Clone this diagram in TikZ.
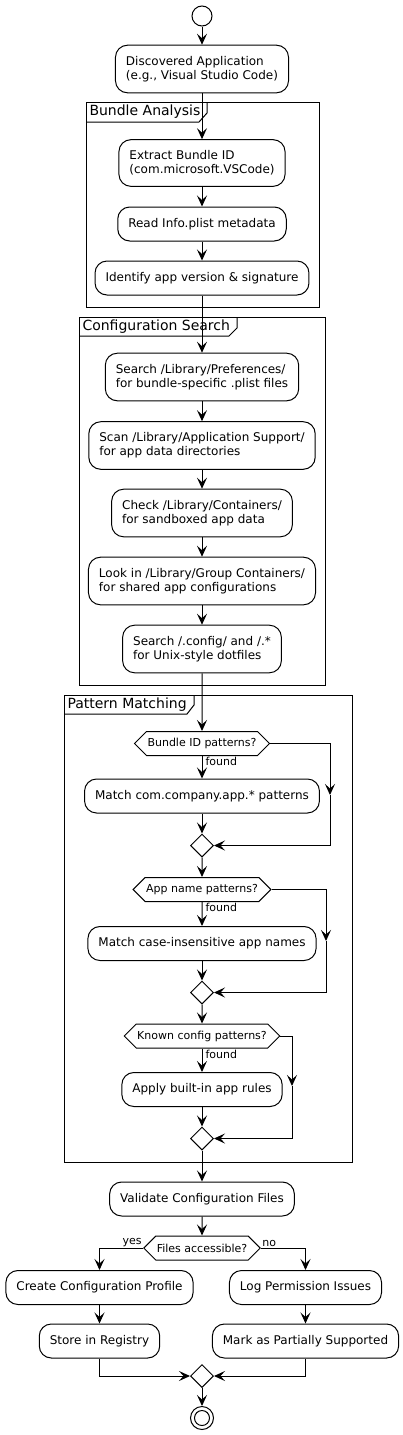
\documentclass[tikz,border=0pt]{standalone}
\usepackage{fontspec}
\setmainfont{DejaVu Sans}
\usetikzlibrary{arrows.meta}
\usetikzlibrary{shapes.geometric, shapes.symbols}

\tikzset{
  act/.style={draw, fill=white, rounded corners=12pt, align=left,
    font=\fontsize{12}{14}\selectfont, inner xsep=10.5pt, inner ysep=11pt,
    minimum height=34pt},
  ask/.style={draw, fill=white, signal, signal to=east and west,
    signal pointer angle=90, font=\fontsize{11}{13}\selectfont,
    inner xsep=1pt, inner ysep=6pt, minimum height=24pt},
  merge/.style={draw, fill=white, diamond, inner sep=0pt, minimum size=23pt},
  flow/.style={-{Stealth[length=11pt,width=10pt,inset=4.5pt]}},
  lbl/.style={font=\fontsize{11}{13}\selectfont, inner sep=1pt},
  parttitle/.style={font=\fontsize{14}{16}\selectfont, inner sep=0pt, anchor=west}
}

\begin{document}
\begin{tikzpicture}[x=1pt, y=-1pt, line width=1pt]
\useasboundingbox (0,0) rectangle (403,1435);

% partitions
\draw (86,102) rectangle (319,307);
\draw (86,122) -- (199,122) -- (207,113) -- (207,102);
\node[parttitle] (tbundle) at (89,112) {Bundle Analysis};

\draw (79,317) rectangle (325,685);
\draw (79,336) -- (229,336) -- (237,328) -- (237,317);
\node[parttitle] (tsearch) at (82,326.5) {Configuration Search};

\draw (64,695) rectangle (352,1162);
\draw (64,714) -- (187,714) -- (194,705) -- (194,695);
\node[parttitle] (tpattern) at (67,704.5) {Pattern Matching};

% activities
\node[draw, circle, minimum size=20pt, inner sep=0pt] (start) at (202,16) {};
\node[act] (disc) at (202,69) {Discovered Application\\(e.g., Visual Studio Code)};

\node[act] (extract) at (202,163) {Extract Bundle ID\\(com.microsoft.VSCode)};
\node[act] (plist) at (202,224) {Read Info.plist metadata};
\node[act] (ident) at (202,278) {Identify app version \& signature};

\node[act] (prefs) at (202,377) {Search /Library/Preferences/\\for bundle-specific .plist files};
\node[act] (appsup) at (202,445.5) {Scan /Library/Application Support/\\for app data directories};
\node[act] (contain) at (202,513) {Check /Library/Containers/\\for sandboxed app data};
\node[act] (group) at (202,581) {Look in /Library/Group Containers/\\for shared app configurations};
\node[act] (dotfiles) at (202,649) {Search /.config/ and /.*\\for Unix-style dotfiles};

\node[ask] (qbundle) at (202,743.5) {Bundle ID patterns?};
\node[act] (mbundle) at (202,796) {Match com.company.app.* patterns};
\node[merge] (jbundle) at (202,845.5) {};
\coordinate (sbundle) at (330,795);

\node[ask] (qname) at (202,889.5) {App name patterns?};
\node[act] (mname) at (202,943.5) {Match case-insensitive app names};
\node[merge] (jname) at (202,992.5) {};
\coordinate (sname) at (326,941);

\node[ask] (qknown) at (202,1036) {Known config patterns?};
\node[act] (mknown) at (202,1089.5) {Apply built-in app rules};
\node[merge] (jknown) at (202,1138.5) {};
\coordinate (sknown) at (292,1086);

\node[act] (valid) at (202,1199) {Validate Configuration Files};
\node[ask] (qaccess) at (202,1248) {Files accessible?};
\node[act] (profile) at (99.5,1287.5) {Create Configuration Profile};
\node[act] (registry) at (99.5,1341) {Store in Registry};
\node[act] (logperm) at (305.5,1287.5) {Log Permission Issues};
\node[act] (partial) at (305.5,1341) {Mark as Partially Supported};
\node[merge] (jend) at (202,1376) {};
\node[draw, circle, minimum size=23pt, inner sep=0pt] (stop) at (202,1418) {};
\node[draw, circle, minimum size=15pt, inner sep=0pt] (stopin) at (stop) {};

% connectors
\draw[flow] (start) -- (disc);
\draw[flow] (disc) -- (extract);
\draw[flow] (extract) -- (plist);
\draw[flow] (plist) -- (ident);
\draw[flow] (ident) -- (prefs);
\draw[flow] (prefs) -- (appsup);
\draw[flow] (appsup) -- (contain);
\draw[flow] (contain) -- (group);
\draw[flow] (group) -- (dotfiles);
\draw[flow] (dotfiles) -- (qbundle);

\draw[flow] (qbundle) -- node[lbl, pos=0, anchor=north west, xshift=2pt] (fbundle) {found} (mbundle);
\draw[flow] (mbundle) -- (jbundle);
\draw[flow] (qbundle.east) -| (sbundle);
\draw[flow] (sbundle) |- (jbundle.east);
\draw[flow] (jbundle) -- (qname);

\draw[flow] (qname) -- node[lbl, pos=0, anchor=north west, xshift=2pt] (fname) {found} (mname);
\draw[flow] (mname) -- (jname);
\draw[flow] (qname.east) -| (sname);
\draw[flow] (sname) |- (jname.east);
\draw[flow] (jname) -- (qknown);

\draw[flow] (qknown) -- node[lbl, pos=0, anchor=north west, xshift=2pt] (fknown) {found} (mknown);
\draw[flow] (mknown) -- (jknown);
\draw[flow] (qknown.east) -| (sknown);
\draw[flow] (sknown) |- (jknown.east);
\draw[flow] (jknown) -- (valid);

\draw[flow] (valid) -- (qaccess);
\draw[flow] (qaccess.west) node[lbl, anchor=south east] (lyes) {yes} -| (profile);
\draw[flow] (qaccess.east) node[lbl, anchor=south west] (lno) {no} -| (logperm);
\draw[flow] (profile) -- (registry);
\draw[flow] (logperm) -- (partial);
\draw[flow] (registry) |- (jend.west);
\draw[flow] (partial) |- (jend.east);
\draw[flow] (jend) -- (stop);

\end{tikzpicture}
\end{document}
